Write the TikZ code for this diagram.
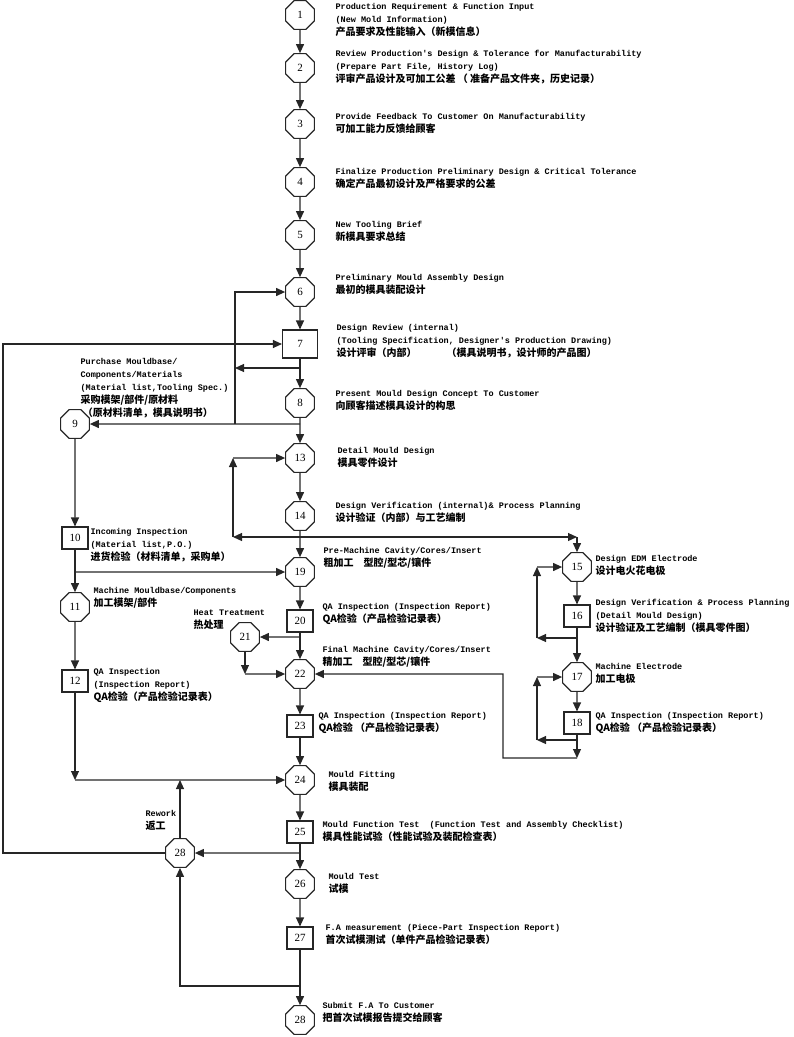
\documentclass[tikz,border=0pt]{standalone}
\usepackage{fontspec}
\setmainfont{Liberation Serif}
\setmonofont{Liberation Mono}
\newfontfamily\cjk{Noto Sans CJK SC}
\usetikzlibrary{shapes.geometric, arrows.meta}
\newcommand{\zh}[1]{{\cjk\bfseries\fontsize{10}{13}\selectfont #1}}

\begin{document}
\begin{tikzpicture}[x = 1pt, y = -1pt, line width = 1.1pt, draw = black!85,
    oct/.style = {draw, regular polygon, regular polygon sides = 8, minimum size = 31pt, inner sep = 0pt, font = \fontsize{11}{12}\selectfont},
    sq/.style = {draw, minimum width = 26pt, minimum height = 22pt, inner sep = 0pt, font = \fontsize{11}{12}\selectfont},
    txt/.style = {anchor = west, align = left, inner sep = 0pt, font = \ttfamily\bfseries\fontsize{8.5}{13}\selectfont},
    arr/.style = {-{Triangle[length = 9pt, width = 8pt]}}]
            \useasboundingbox (0,0) rectangle (794,1037);
            \node[oct] (n1) at (300,15) {1};
            \node[oct] (n2) at (300,68) {2};
            \node[oct] (n3) at (300,124) {3};
            \node[oct] (n4) at (300,182) {4};
            \node[oct] (n5) at (300,235) {5};
            \node[oct] (n6) at (300,292) {6};
            \node[sq, minimum width = 35pt, minimum height = 28pt] (n7) at (300,344) {7};
            \node[oct] (n8) at (300,403) {8};
            \node[oct] (n9) at (75,424) {9};
            \node[sq] (n10) at (75,538) {10};
            \node[oct] (n11) at (75,607) {11};
            \node[sq] (n12) at (75,681) {12};
            \node[oct] (n13) at (300,458) {13};
            \node[oct] (n14) at (300,516) {14};
            \node[oct] (n15) at (577,567) {15};
            \node[sq] (n16) at (577,616) {16};
            \node[oct] (n17) at (577,677) {17};
            \node[sq] (n18) at (577,723) {18};
            \node[oct] (n19) at (300,572) {19};
            \node[sq] (n20) at (300,621) {20};
            \node[oct] (n21) at (245,637) {21};
            \node[oct] (n22) at (300,674) {22};
            \node[sq] (n23) at (300,726) {23};
            \node[oct] (n24) at (300,780) {24};
            \node[sq] (n25) at (300,832) {25};
            \node[oct] (n26) at (300,884) {26};
            \node[sq] (n27) at (300,938) {27};
            \node[oct] (n28) at (300,1020) {28};
            \node[oct] (n28l) at (180,853) {28};

            \node[txt] (t1) at (335,20) {Production Requirement \& Function Input\\(New Mold Information)\\\zh{产品要求及性能输入（新模信息）}};
            \node[txt] (t2) at (335,67) {Review Production's Design \& Tolerance for Manufacturability\\(Prepare Part File, History Log)\\\zh{评审产品设计及可加工公差 （ 准备产品文件夹，历史记录）}};
            \node[txt] (t3) at (335,123) {Provide Feedback To Customer On Manufacturability\\\zh{可加工能力反馈给顾客}};
            \node[txt] (t4) at (335,178) {Finalize Production Preliminary Design \& Critical Tolerance\\\zh{确定产品最初设计及严格要求的公差}};
            \node[txt] (t5) at (335,231) {New Tooling Brief\\\zh{新模具要求总结}};
            \node[txt] (t6) at (335,284) {Preliminary Mould Assembly Design\\\zh{最初的模具装配设计}};
            \node[txt] (t7) at (336,341) {Design Review (internal)\\(Tooling Specification, Designer's Production Drawing)\\\zh{设计评审（内部）\hspace{3em}（模具说明书，设计师的产品图）}};
            \node[txt] (t8) at (335,400) {Present Mould Design Concept To Customer\\\zh{向顾客描述模具设计的构思}};
            \node[txt] (t9) at (80,388) {Purchase Mouldbase/\\Components/Materials\\(Material list,Tooling Spec.)\\\zh{采购模架/部件/原材料}\\\zh{ （原材料清单，模具说明书）}};
            \node[txt] (t10) at (90,545) {Incoming Inspection\\(Material list,P.O.)\\\zh{进货检验（材料清单，采购单）}};
            \node[txt] (t11) at (93,598) {Machine Mouldbase/Components\\\zh{加工模架/部件}};
            \node[txt] (t12) at (93,685) {QA Inspection\\ (Inspection Report)\\\zh{QA检验（产品检验记录表）}};
            \node[txt] (t13) at (337,457) {Detail Mould Design\\\zh{模具零件设计}};
            \node[txt] (t14) at (335,512) {Design Verification (internal)\& Process Planning\\\zh{设计验证（内部）与工艺编制}};
            \node[txt] (t15) at (595,565) {Design EDM Electrode\\\zh{设计电火花电极}};
            \node[txt] (t16) at (595,616) {Design Verification \& Process Planning\\(Detail Mould Design)\\\zh{设计验证及工艺编制（模具零件图）}};
            \node[txt] (t17) at (595,673) {Machine Electrode\\\zh{加工电极}};
            \node[txt] (t18) at (595,723) {QA Inspection (Inspection Report)\\\zh{QA检验 （产品检验记录表）}};
            \node[txt] (t19) at (323,558) {Pre-Machine Cavity/Cores/Insert\\\zh{粗加工\quad 型腔/型芯/镶件}};
            \node[txt] (t20) at (322,614) {QA Inspection (Inspection Report)\\\zh{QA检验（产品检验记录表）}};
            \node[txt] (t21) at (193,620) {Heat Treatment\\\zh{热处理}};
            \node[txt] (t22) at (322,657) {Final Machine Cavity/Cores/Insert\\\zh{精加工\quad 型腔/型芯/镶件}};
            \node[txt] (t23) at (318,723) {QA Inspection (Inspection Report)\\\zh{QA检验 （产品检验记录表）}};
            \node[txt] (t24) at (328,781) {Mould Fitting\\\zh{模具装配}};
            \node[txt] (t25) at (322,831) {Mould Function Test\ \ (Function Test and Assembly Checklist)\\\zh{模具性能试验（性能试验及装配检查表）}};
            \node[txt] (t26) at (328,883) {Mould Test\\\zh{试模}};
            \node[txt] (t27) at (325,934) {F.A measurement (Piece-Part Inspection Report)\\\zh{首次试模测试（单件产品检验记录表）}};
            \node[txt] (t28) at (322,1012) {Submit F.A To Customer\\\zh{把首次试模报告提交给顾客}};
            \node[txt] (trw) at (145,820) {Rework\\\zh{返工}};

            \foreach \a/\b in {n1/n2, n2/n3, n3/n4, n4/n5, n5/n6, n6/n7, n7/n8, n8/n13, n13/n14, n14/n19,
                n19/n20, n20/n22, n22/n23, n23/n24, n24/n25, n25/n26, n26/n27, n27/n28,
                n9/n10, n10/n11, n11/n12, n15/n16, n16/n17, n17/n18}
                \draw[arr] (\a) -- (\b);

            \coordinate (j7) at (300,368);
            \coordinate (c7) at (235,368);
            \coordinate (j8) at (300,424);
            \coordinate (c8) at (235,424);
            \draw[arr] (j7) -- (c7);
            \draw[arr] (j8) -- (n9);
            \draw[arr] (c8) |- (n6);
            \coordinate (cl) at (3,600);
            \draw[arr] (n28l) -| (cl) |- (n7);

            \coordinate (j14) at (300,537);
            \coordinate (c13a) at (233,537);
            \coordinate (c13b) at (233,458);
            \coordinate (c15) at (577,537);
            \draw[arr] (j14) -- (c13a);
            \draw[arr] (c13a) -- (c13b);
            \draw[arr] (c13b) -- (n13);
            \draw[arr] (j14) -- (c15);
            \draw[arr] (c15) -- (n15);

            \coordinate (j16) at (577,638);
            \coordinate (c16a) at (537,638);
            \coordinate (c16b) at (537,567);
            \draw[arr] (j16) -- (c16a);
            \draw[arr] (c16a) -- (c16b);
            \draw[arr] (c16b) -- (n15);

            \coordinate (j18) at (577,740);
            \coordinate (c18a) at (537,740);
            \coordinate (c18b) at (537,677);
            \draw[arr] (j18) -- (c18a);
            \draw[arr] (c18a) -- (c18b);
            \draw[arr] (c18b) -- (n17);
            \coordinate (c18d) at (577,758);
            \coordinate (c22) at (503,674);
            \draw[arr] (n18) -- (c18d);
            \draw[arr] (c18d) -| (c22) -- (n22);

            \coordinate (j20) at (300,637);
            \coordinate (c21) at (245,674);
            \draw[arr] (j20) -- (n21);
            \draw[arr] (n21) -- (c21);
            \draw[arr] (c21) -- (n22);

            \coordinate (j10) at (75,572);
            \draw[arr] (j10) -- (n19);

            \coordinate (c12) at (75,780);
            \coordinate (c28) at (180,780);
            \draw[arr] (n12) -- (c12);
            \draw[arr] (c12) -- (n24);
            \draw[arr] (n28l) -- (c28);
            \coordinate (j25) at (300,853);
            \draw[arr] (j25) -- (n28l);
            \coordinate (j27) at (300,986);
            \draw[arr] (j27) -| (n28l);
        \end{tikzpicture}
\end{document}
